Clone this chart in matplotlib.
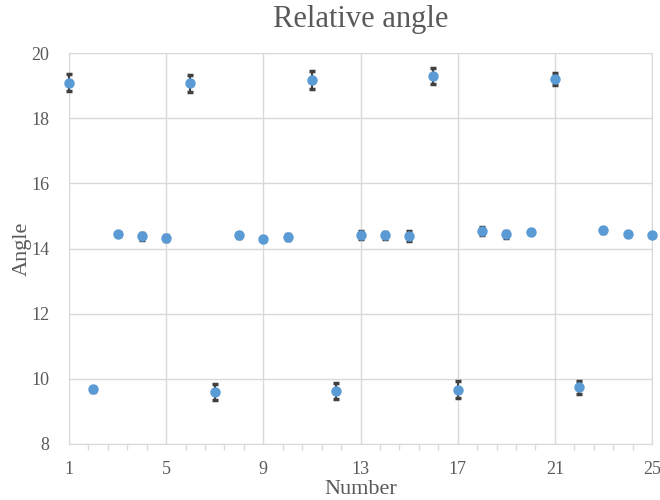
import numpy as np
import matplotlib
matplotlib.use("Agg")
import matplotlib.pyplot as plt

# datos
numero = list(range(1, 26))
angulo = [19.09, 9.68, 14.43, 14.37, 14.32, 19.07, 9.59, 14.41, 14.30, 14.35,
          19.16, 9.62, 14.41, 14.40, 14.39, 19.29, 9.67, 14.54, 14.43, 14.50,
          19.21, 9.74, 14.56, 14.43, 14.40]
error = [0.26, 0.08, 0.03, 0.10, 0.10, 0.26, 0.25, 0.08, 0.02, 0.08,
         0.28, 0.25, 0.12, 0.12, 0.15, 0.24, 0.27, 0.12, 0.10, 0.03,
         0.18, 0.20, 0.08, 0.05, 0.05]
ticks_x = [1, 5, 9, 13, 17, 21, 25]
ticks_y = [8, 10, 12, 14, 16, 18, 20]

gris = '#595959'
azul = '#5B9BD5'

plt.rcParams['font.family'] = ['Liberation Serif', 'DejaVu Serif']

fig = plt.figure(figsize=(6.6, 5.0), dpi=100)
ax = fig.add_axes([0.1045, 0.112, 0.8835, 0.782])

ax.errorbar(numero, angulo, yerr=error, fmt='none', ecolor='#404040',
            elinewidth=1.5, capsize=2.5, capthick=2.5, zorder=3, clip_on=False)
ax.plot(numero, angulo, 'o', color=azul, markersize=6.5, zorder=4, clip_on=False)

ax.set_xlim(1, 25)
ax.set_ylim(8, 20)
ax.set_xticks(ticks_x)
ax.set_xticks(np.arange(1, 25.01, 0.8), minor=True)
ax.set_yticks(ticks_y)

ax.grid(True, which='major', color='#D9D9D9', linewidth=1, zorder=0)
ax.set_axisbelow(True)
for s in ['top', 'right', 'bottom', 'left']:
    ax.spines[s].set_color('#D9D9D9')

ax.tick_params(axis='x', which='major', length=0, pad=12, labelsize=13, labelcolor=gris)
ax.tick_params(axis='x', which='minor', length=4, color='#D9D9D9', width=1)
ax.tick_params(axis='y', which='major', length=0, pad=14, labelsize=13, labelcolor=gris)

ax.set_title("Relative angle", fontsize=22, color=gris, pad=19)
ax.set_xlabel("Number", fontsize=16, color=gris, labelpad=2)
ax.set_ylabel("Angle", fontsize=16, color=gris, labelpad=0)

fig.savefig("out.png", dpi=100)
